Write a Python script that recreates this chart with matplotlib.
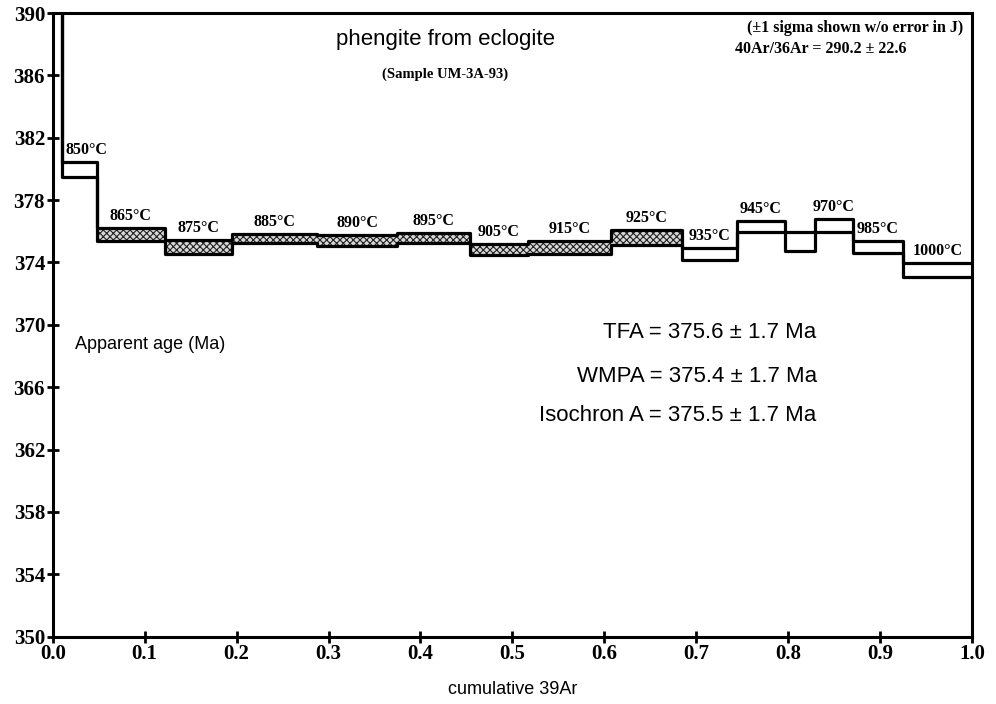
import numpy as np
import matplotlib.pyplot as plt
from matplotlib.patches import Rectangle

# step data (cumulative 39Ar fraction, apparent age in Ma)
step_labels = ['', '850°C', '865°C', '875°C', '885°C', '890°C', '895°C', '905°C',
               '915°C', '925°C', '935°C', '945°C', '', '970°C', '985°C', '1000°C']
x_edges = [0.0, 0.0098, 0.048, 0.122, 0.195, 0.288, 0.375, 0.454, 0.517,
           0.607, 0.684, 0.744, 0.796, 0.829, 0.870, 0.925, 1.0]
age_hi = [400.0, 380.42, 376.19, 375.42, 375.83, 375.76, 375.87, 375.18,
          375.39, 376.08, 374.91, 376.66, 375.93, 376.79, 375.38, 373.94]
age_lo = [394.0, 379.50, 375.38, 374.54, 375.25, 375.05, 375.23, 374.48,
          374.54, 375.12, 374.16, 375.93, 374.76, 375.93, 374.63, 373.09]
plateau = [False, False, True, True, True, True, True, True,
           True, True, False, False, False, False, False, False]

x_ticks = [0.0, 0.1, 0.2, 0.3, 0.4, 0.5, 0.6, 0.7, 0.8, 0.9, 1.0]
y_ticks = [350, 354, 358, 362, 366, 370, 374, 378, 382, 386, 390]

serif = 'Liberation Serif'
sans = 'Liberation Sans'

plt.rcParams['hatch.linewidth'] = 0.8

fig = plt.figure(figsize=(9.96, 7.04), dpi=100)
ax = fig.add_axes([0.0529, 0.0956, 0.9231, 0.8859])

# hatched fill for the plateau steps
for i in range(len(age_hi)):
    if plateau[i]:
        r = Rectangle((x_edges[i], age_lo[i]), x_edges[i + 1] - x_edges[i],
                      age_hi[i] - age_lo[i], facecolor='#d8d8d8',
                      edgecolor='#202020', hatch='xxxxx', lw=0)
        ax.add_patch(r)

# upper and lower outlines of the step boxes
ax.step(x_edges, age_hi + [age_hi[-1]], where='post', color='black', lw=2.3)
ax.step(x_edges, age_lo + [age_lo[-1]], where='post', color='black', lw=2.3)

# temperature labels
for i, lab in enumerate(step_labels):
    if not lab:
        continue
    if i == 1:
        ax.annotate(lab, (x_edges[i], age_hi[i]), xytext=(3, 3),
                    textcoords='offset points', ha='left', va='bottom',
                    fontsize=11.5, fontweight='bold', family=serif)
        continue
    xc = 0.5 * (x_edges[i] + x_edges[i + 1])
    ax.annotate(lab, (xc, age_hi[i]), xytext=(0, 3), textcoords='offset points',
                ha='center', va='bottom', fontsize=11.5, fontweight='bold',
                family=serif)

ax.set_xlim(0, 1)
ax.set_ylim(350, 390)
ax.set_xticks(x_ticks)
ax.set_xticklabels([f'{v:.1f}' for v in x_ticks])
ax.set_yticks(y_ticks)
ax.tick_params(direction='inout', length=9, width=2.0, labelsize=15, pad=1)
for lab in ax.get_xticklabels() + ax.get_yticklabels():
    lab.set_family(serif)
    lab.set_fontweight('bold')
for sp in ax.spines.values():
    sp.set_linewidth(2.2)

ax.set_xlabel('cumulative 39Ar', family=sans, fontsize=13, labelpad=12)

# annotations
ax.text(0.427, 0.957, 'phengite from eclogite', transform=ax.transAxes,
        ha='center', va='center', family=sans, fontsize=16)
ax.text(0.427, 0.902, '(Sample UM-3A-93)', transform=ax.transAxes,
        ha='center', va='center', family=serif, fontsize=10.5, fontweight='bold')
ax.text(0.990, 0.976, '(±1 sigma shown w/o error in J)', transform=ax.transAxes,
        ha='right', va='center', family=serif, fontsize=11.5, fontweight='bold')
ax.text(0.835, 0.942, '40Ar/36Ar = 290.2 ± 22.6', transform=ax.transAxes,
        ha='center', va='center', family=serif, fontsize=11.5, fontweight='bold')
ax.text(0.024, 0.468, 'Apparent age (Ma)', transform=ax.transAxes,
        ha='left', va='center', family=sans, fontsize=13)
ax.text(0.831, 0.487, 'TFA = 375.6 ± 1.7 Ma', transform=ax.transAxes,
        ha='right', va='center', family=sans, fontsize=16)
ax.text(0.831, 0.417, 'WMPA = 375.4 ± 1.7 Ma', transform=ax.transAxes,
        ha='right', va='center', family=sans, fontsize=16)
ax.text(0.831, 0.355, 'Isochron A = 375.5 ± 1.7 Ma', transform=ax.transAxes,
        ha='right', va='center', family=sans, fontsize=16)

fig.savefig('out.png', dpi=100)
